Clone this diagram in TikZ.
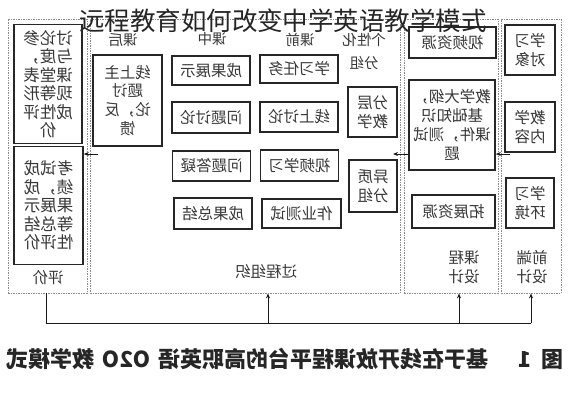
\documentclass[tikz,border=0pt]{standalone}
\usepackage{fontspec}
\setmainfont{Noto Sans CJK SC}
\usetikzlibrary{arrows.meta}
\newcommand\boxfont{\fontsize{15.5}{18.8}\selectfont}
\newcommand\evfont{\fontsize{16.5}{18.5}\selectfont}
\newcommand\headfont{\fontsize{14.5}{20}\selectfont}
\newcommand\capfont{\fontsize{22}{22}\selectfont\bfseries}
\tikzset{
  mir/.style={xscale=-1},
  lane/.style={draw=black!45, dash pattern=on 1.5pt off 1pt, line width=0.8pt, inner sep=0pt, minimum height=274},
  box/.style={mir, draw=black!85, line width=1.5pt, fill=white, inner sep=0pt, text=black!78, font=\boxfont, align=center},
  lbl/.style={mir, text=black!78, font=\headfont, align=center},
  arr/.style={-{Stealth[length=5pt,width=4pt]}, line width=0.9pt, black!90}
}
\begin{document}
\begin{tikzpicture}[x=1pt,y=-1pt]
  \useasboundingbox (0,0) rectangle (568,400);

  \node[lane, minimum width=79] (pj) at (47.5,156) {};
  \node[lane, minimum width=310] (gc) at (245,156) {};
  \node[lane, minimum width=94] (kc) at (451,156) {};
  \node[lane, minimum width=60] (qd) at (531,156) {};

  \node[box, font=\evfont, minimum width=68, minimum height=119] (ev1) at (48,84) {讨论参\\与度，\\课堂表\\现等形\\成性评\\价};
  \node[box, font=\evfont, minimum width=69, minimum height=118] (ev2) at (48.5,205.5) {考试成\\绩，成\\果展示\\等总结\\性评价};
  \node[lbl, font=\boxfont] (pjt) at (48,278) {评价};

  \node[lbl] (kh) at (123,40) {课后};
  \node[lbl] (kz) at (212,39) {课中};
  \node[lbl] (kq) at (300,40) {课前};
  \node[lbl, font=\fontsize{14.5}{23}\selectfont] (gx) at (364,51.5) {个性化\\分组};

  \node[box, minimum width=69, minimum height=91] (kh1) at (127.5,100.5) {线上主\\题讨\\论，反\\馈};

  \node[box, minimum width=78, minimum height=29] (kz1) at (211,70.5) {成果展示};
  \node[box, minimum width=78, minimum height=31] (kz2) at (211,117.5) {问题讨论};
  \node[box, minimum width=78, minimum height=30] (kz3) at (211.5,166) {问题答疑};
  \node[box, minimum width=78, minimum height=31] (kz4) at (213,213.5) {成果总结};

  \node[box, minimum width=78, minimum height=28] (kq1) at (299,69) {学习任务};
  \node[box, minimum width=78, minimum height=30] (kq2) at (299,117) {线上讨论};
  \node[box, minimum width=78, minimum height=31] (kq3) at (299.5,165.5) {视频学习};
  \node[box, minimum width=79, minimum height=29] (kq4) at (301.5,213.5) {作业测试};

  \node[box, minimum width=49, minimum height=50] (fc) at (372.5,112) {分层\\教学};
  \node[box, minimum width=48, minimum height=52] (yz) at (373,186) {异质\\分组};

  \node[lbl, font=\boxfont] (gct) at (266,272) {过程组织};

  \node[box, minimum width=87, minimum height=31] (spzy) at (452.5,42.5) {视频资源};
  \node[box, minimum width=86, minimum height=90] (dg) at (452,125) {教学大纲，\\基础知识\\课件，测试\\题};
  \node[box, minimum width=83, minimum height=33] (tz) at (453.5,211.5) {拓展资源};
  \node[lbl, font=\boxfont] (kct) at (464,267) {课程\\设计};

  \node[box, minimum width=50, minimum height=50] (xxdx) at (530,50) {学习\\对象};
  \node[box, minimum width=50, minimum height=50] (jxnr) at (530,127) {教学\\内容};
  \node[box, minimum width=48, minimum height=50] (xxhj) at (530,203) {学习\\环境};
  \node[lbl, font=\boxfont] (qdt) at (532,267) {前端\\设计};

  \coordinate (a1) at (393,154);
  \coordinate (a2) at (510,154);
  \coordinate (a3) at (98,154);
  \draw[arr] (dg.east |- a1) -- (a1);
  \draw[arr] (a2) -- (dg.west |- a2);
  \draw[arr] (a3) -- (ev2.west |- a3);

  \coordinate (b0) at (46,323);
  \coordinate (b1) at (268,323);
  \coordinate (b2) at (459,323);
  \coordinate (b3) at (531,323);
  \draw[line width=1pt, black!90] (pj.south -| b0) -- (b0) -- (b3);
  \draw[arr] (b1) -- (b1 |- gc.south);
  \draw[arr] (b2) -- (b2 |- kc.south);
  \draw[arr] (b3) -- (b3 |- qd.south);

  \node[mir, font=\capfont, text=black!85] (tz1) at (285,359) {图\hspace{10pt}1\hspace{30pt}基于在线开放课程平台的高职英语\hspace{8pt}O2O\hspace{8pt}教学模式};

  \node[font=\fontsize{25.5}{25.5}\selectfont, text=black!85] (bt) at (283,21) {远程教育如何改变中学英语教学模式};
\end{tikzpicture}
\end{document}
